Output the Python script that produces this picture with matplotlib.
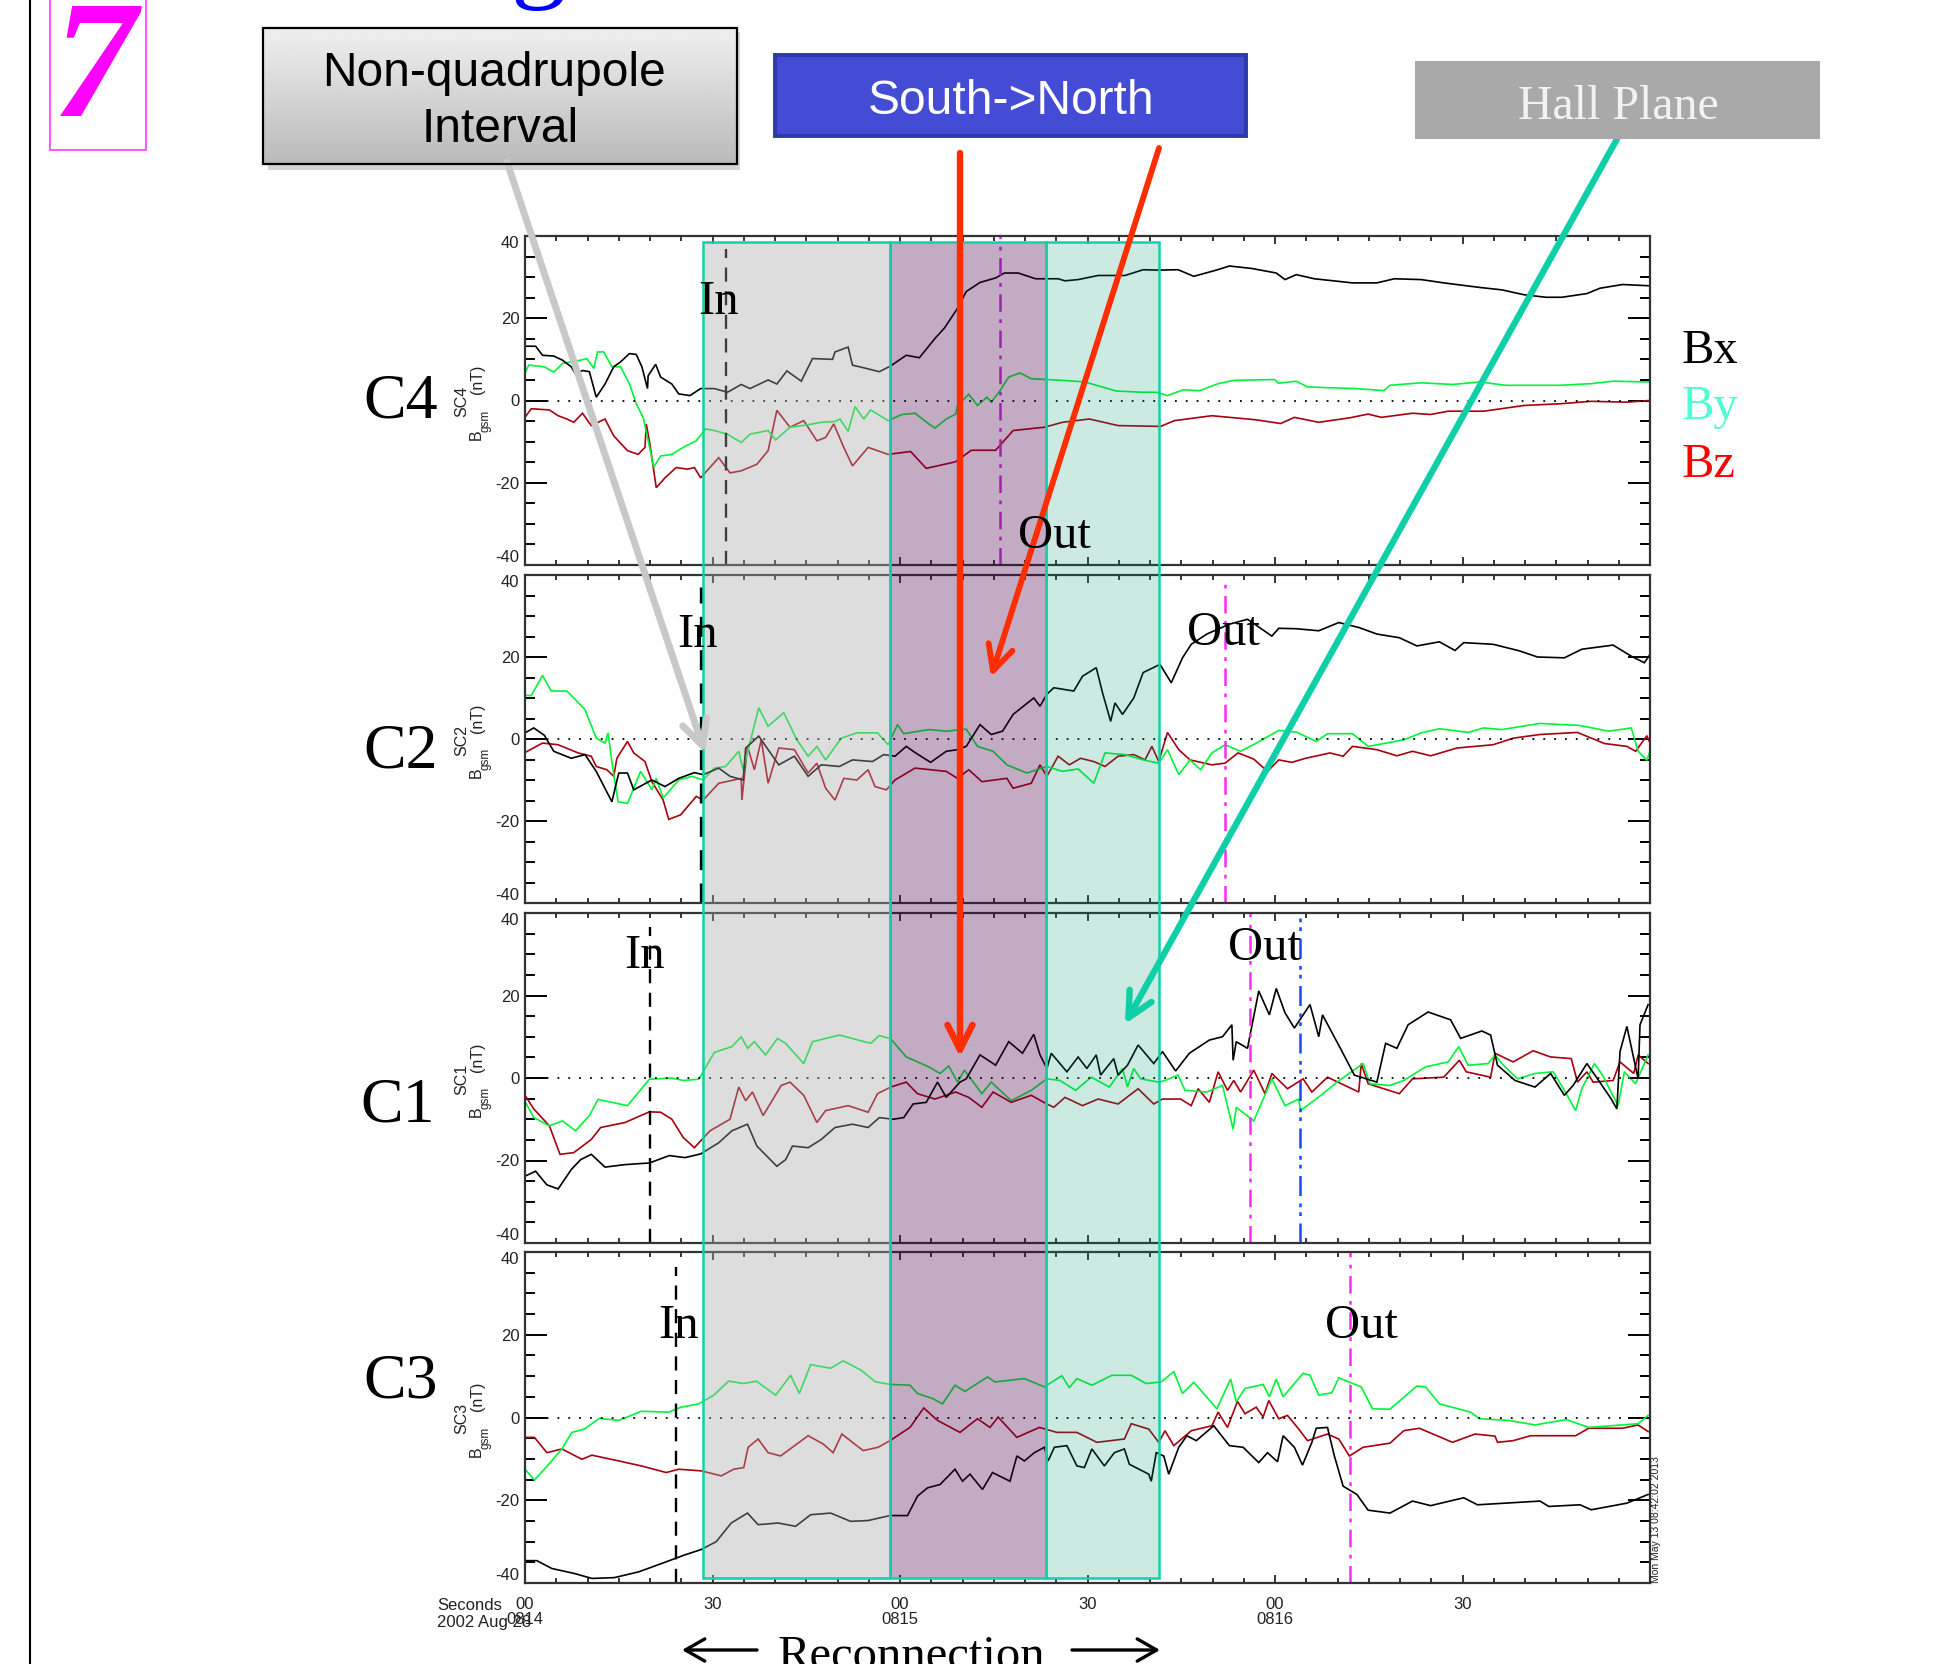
import matplotlib
matplotlib.use('Agg')
import matplotlib.pyplot as plt
from matplotlib.patches import Rectangle
import numpy as np

W, H = 1948, 1664
SERIF = ['Liberation Serif', 'DejaVu Serif']
SANS = ['Liberation Sans', 'DejaVu Sans']

# all times are seconds after 08:14:00, all fields in nT
c4_bx_t = [0,1.7,2.8,4.6,6,7.4,8.1,9.2,10.3,11.4,12.8,14.2,15.3,16.7,17.8,18.7,19.6,19.7,20.9,21.7,23.5,24.6,26.4,28.1,30.3,32.4,34.6,36,38.9,40.3,41.9,44.2,46,49.2,49.6,51.7,52.4,54.6,56.7,58.5,61,63.1,65.6,67.1,69.2,70.6,72.8,75.3,76.7,78.9,81.7,85.3,86.4,88.5,91.7,96,98.9,101.3,104.5,107,110.6,112.7,116.3,120.2,121.6,123.4,126.3,132.4,136.3,139.1,143.4,147,152.7,156.3,159.9,163.4,165.9,169.9,172,175.6,179.9]
c4_bx = [13.2,13.2,11,10.8,9.8,8.2,6.4,7.3,7,0.8,4,8.2,9.4,11.4,11.2,8.2,2.9,6,8.8,5.7,4,1.6,1.2,2.9,2.9,2,3.9,2.9,5,4,7.2,4.7,10.2,10,11.8,13,8.6,7.8,7,8.4,11,10.4,15.1,17.6,22.4,26.5,28.7,29.8,31,31,29.6,29.6,29.1,29.4,30.4,30.4,31.8,31.7,31.8,30.2,31.7,32.7,32.1,31,29.4,30.6,29.6,28.6,28.6,29.6,29.4,28.6,27.5,26.9,25.7,25.1,25.1,26,27.3,28.2,27.9]
c4_by_t = [0,.6,3.1,4.6,6,7.4,8.9,9.9,11,11.6,12.6,13.9,15.3,16.7,17.8,18.9,19.6,20.6,21.7,23.5,25.3,27.4,28.9,30.3,32.4,34.6,36,38.9,40.1,42.4,45.3,47.4,49.6,50.4,51.7,52.8,54.2,55.3,58.1,60.3,62.4,64.6,65.6,67.4,68.9,69.2,71,72.4,73.9,74.6,76,77.4,79.2,81,86,89.6,94.6,98.9,101,102.8,105.3,108,110.9,113.4,119.9,120.6,123.4,125.2,130.6,133.1,137.4,138.4,143.4,148.4,152.7,157,165.6,170.6,174.1,179.9]
c4_by = [6.7,8.6,8.2,6.9,9,9.4,9.8,10.2,7.8,11.8,11.8,8.2,8.2,4.1,-.8,-4.1,-9,-16.2,-13.5,-13.1,-11.4,-9.8,-6.9,-7.3,-8.2,-10.2,-8.2,-7.3,-9.6,-6.5,-5.9,-5.3,-5.1,-4.5,-7.5,-1.5,-4.5,-2.3,-4.9,-3.4,-3.1,-5.7,-6.7,-4.5,-3.3,-1.2,1.5,-1.2,.8,-.4,2.4,5.7,6.7,5.3,4.9,4.5,2.3,2,2,1.2,2.6,2.4,4.1,4.9,5.1,4.2,4.7,3.3,3,2.9,2.4,3.7,4.3,3.9,4.5,3.7,3.7,4.1,4.7,4.5]
c4_bz_t = [0,1,3.9,5.3,6.7,7.8,9.2,10.6,12.8,14.2,16.4,18.1,19.2,19.4,19.9,21,22.4,24.2,26,27.1,28.1,31,32.8,34.6,37.1,38.9,40.3,42.4,44.6,46.7,48.1,49.4,51,52.4,54.9,58.1,61.7,64.2,68.9,71.4,75.3,78.1,83.1,86,90.3,94.9,101.7,103.9,109.9,117,120.9,123.1,127,132,134.9,137,142,144.9,147.7,153.4,159.9,165.6,170.6,176.3,179.9]
c4_bz = [-4.1,-2,-2.3,-3.7,-4.5,-5.3,-3.1,-6.1,-4.5,-8.6,-12.2,-13.1,-11.4,-5.7,-9.8,-21.2,-18.8,-16.3,-16.7,-16.3,-18.8,-13.9,-17.6,-17.1,-15.5,-12.2,-2.4,-6.5,-4.9,-9.8,-9,-5.7,-11.4,-15.9,-11.4,-13.1,-12.4,-16.5,-14.9,-12.1,-12.1,-7.3,-6.5,-5.3,-4.5,-6.1,-6.3,-4.9,-3.7,-4.7,-5.6,-4.1,-5.3,-4.2,-3.3,-4.1,-3.1,-3.4,-2.6,-2.6,-1.2,-.8,-.2,-.4,0]

c2_bx_t = [0,1.4,3.1,4.6,7.4,9.6,11.4,13.9,15,16.4,17.4,20.3,22.4,24.6,27.1,28.5,31,32.8,34.9,35.3,37.4,38.9,40.6,43.1,45.3,47.4,50.3,52.4,55.6,57.4,59.2,61,62.4,64.9,67.4,69.2,70.6,72.8,74.6,76.4,78.1,81.4,82.4,83.5,84.6,87.8,89.2,91.4,92.4,93.7,94.4,95.6,97.4,98.9,101.6,103.4,105.2,106.6,109.1,112.7,115.6,119.5,120.6,123.4,127,130.2,133.4,136.3,139.9,142.7,146.3,148.8,150.2,154.9,159.1,162,166.3,169.1,174.1,177,179.1,179.9]
c2_bx = [1.5,2.7,.9,-3,-4.7,-3.8,-7.9,-15.3,-8.3,-8.3,-12.4,-10,-11.6,-9.6,-8.2,-8.7,-7.1,-9.1,-10,-2.2,.7,-2.6,-6.3,-4.2,-9.1,-6.3,-6.7,-5.1,-5.5,-3.8,-4.2,-1.8,-3.3,-5.7,-3,-2.6,-1.8,3.5,1.1,1.9,6,10,8,10.9,12.5,11.7,15.3,17.4,11.3,4.3,8.8,6,10,16.2,18.2,13.7,19.8,23.1,25.6,28,29.2,25.1,27,26.9,26.4,28.4,27.2,25.6,24.7,22.7,23.7,21.6,23.5,23.1,21.5,20,19.8,21.9,22.9,20.2,18.6,20.4]
c2_by_t = [0,1,2.8,4.2,6.7,9.6,11.4,12.8,13.3,14,14.9,16.4,18.5,20.3,21,22.1,24.6,26.7,28.5,30.3,32.1,34.2,34.9,37.4,38.9,41.4,43.5,45.3,46.7,48.1,50.6,53.1,56.4,58.1,59.6,60.6,64.6,67.4,70.6,72.4,74.9,77.1,80.3,83.5,86,88.5,91,92.8,96,98.9,101.4,102.8,104.6,106.4,108.1,109.9,112,114.5,117,120.6,123.4,126.6,128.4,132.4,134.9,140.6,143.4,146.3,150.9,153.4,156.3,162.4,168.8,173.4,177,178.1,179.5,179.9]
c2_by = [10.6,10.6,15.5,11.7,11.7,7.2,.2,-1,1.5,-6.7,-15.3,-15.7,-7.9,-12.4,-9.6,-14.4,-10,-9.1,-10,-7.1,-6.7,-3,-7.5,7.6,3.1,6.4,-.2,-4.2,-1.8,-5.1,.2,1.5,1.5,-1.4,3.5,1.3,2.3,1.9,2.4,-1.8,-3,-6.3,-8.3,-6.7,-7.9,-7.3,-10.8,-3.4,-3.8,-5.1,-5.9,-2.6,-8.7,-5.1,-7.5,-3.4,-1.4,-3,-1,2.1,1.7,-.6,1.3,1.3,-1.8,-.2,1.5,2.5,1.6,2.7,2.3,3.8,3.3,1.9,2.7,-3,-5.2,-3.4]
c2_bz_t = [0,2.8,5.3,8.5,10.6,11.4,13.1,14.2,14.7,16.4,17.4,19.2,20.3,22.1,23,24.9,27.4,28.5,31,34.6,34.7,35.6,36.7,37.8,38.9,40.6,43.1,45.3,46.7,48.1,49.6,51,53.1,54.9,56,57.8,59.2,62.4,67.4,69.2,71,73.1,77.1,78.1,81,82.4,83.5,85.3,87.1,88.9,91,92.8,94.9,97.4,99.2,100.3,101.4,102.8,104.6,106.4,109.9,112,114.1,116.6,118.8,120.6,122.7,124.9,128.8,130.9,132.4,136.3,139.5,142,144.9,149.1,154.9,158.1,162.4,168.4,172.7,176.3,177.7,179.5,179.9]
c2_bz = [-3.3,-1,-1.4,-3.4,-4.2,-6.7,-7.5,-9.1,-4.7,-.6,-3.4,-5.5,-10.4,-14.9,-19.6,-18.5,-14,-14.9,-10.8,-9.6,-14.9,-1.8,-7.5,-.2,-10.8,-2.2,-2.6,-8.3,-5.9,-12,-14.9,-9.6,-10,-7.5,-11.6,-12.4,-10,-7.1,-7.9,-9.6,-7.5,-10.4,-9.6,-12,-10.8,-6.3,-9.1,-4.2,-6.3,-4.7,-5.5,-6.7,-4.2,-3.8,-5.1,-1.8,-5.5,1.6,-2.6,-5.1,-6.3,-5.9,-3.4,-4.9,-7.9,-5.1,-5.7,-4.7,-3.4,-4.2,-1.8,-2.6,-4.1,-3,-4.1,-2.2,-1.4,.2,1.1,1.6,-1.1,-1.8,-3,.8,-.6]

c1_bx_t = [0,1.7,3.5,5.3,7.4,8.9,10.6,12.8,16,19.9,23.1,25.6,28.1,31,33.1,35.6,37.1,40.3,41.7,42.8,45.3,47.4,49.6,52.4,54.9,56.7,58.9,60.6,62.1,64.2,66,67.4,69.6,70.6,72.8,75.3,77.4,79.6,81.4,82.4,83.5,84.2,86.7,88.5,89.9,91.4,92.1,94.2,94.9,96.4,98.1,100.6,102,104.1,106.3,109.5,111.6,113.1,113.3,113.8,115.6,117.4,119.1,120.2,121.6,123.1,125.6,127,127.6,130.6,132.7,136.3,137.7,139.5,141.3,144.5,148.1,149.7,153.1,154.5,155.6,158.4,161.6,164.1,166.3,167.7,169.9,171.6,173.8,174.7,175.2,176.3,178.1,178.4,179.7]
c1_bx = [-23.8,-22.6,-25.9,-26.9,-22.2,-19.8,-18.5,-21.6,-21,-20.6,-18.8,-19.3,-18.4,-15.7,-12.8,-11.2,-16.5,-21.4,-19.8,-16.5,-16.9,-14.9,-12,-11.2,-12,-9.6,-10,-9.6,-6.3,-5.9,-1,-4.7,-1,-.2,5.6,3.1,8.8,6,10.6,5.6,2.3,6,1.5,5.1,2.3,5.6,.7,4.7,.7,3.1,8,3.5,6.4,1.7,6,9.2,10,12.9,4.3,8.8,7.2,21.1,15.3,21.7,15.8,12.1,17.8,10,15.3,6.8,.7,-1,8.4,7.2,12.9,16,14.1,9.6,11.4,10.4,3.1,-.6,-2.2,1.1,-4.2,-1.8,3.5,-.2,-5.1,-7.5,6.4,12.5,-.2,12.9,17.8]
c1_by_t = [0,1.4,3.9,6,8.1,10.3,11.7,16.4,19.9,23.5,25.3,27.8,30.3,33.1,34.6,35.6,36.7,38.5,40.4,41.7,44.6,46,50.3,55.3,56.7,58.5,61,64.6,66.4,67.8,69.2,70.3,73.1,74.6,77.8,81,83.5,85.6,88.1,90.6,93.5,95.6,96.4,97.4,98.5,101.4,102.4,104.5,105.6,109.1,111.6,113.3,113.8,116.6,119.5,121.6,123.8,124.1,127.7,129.9,134.1,135.2,138.4,140.6,144.1,147.7,149.4,150.9,154.1,155.2,156.3,158.8,161.6,164.5,166.3,168.1,169.1,171.1,172.4,174.9,175.9,177.7,179.7]
c1_by = [-5.7,-9.6,-11.6,-10.4,-12.8,-9.1,-5.2,-6.7,-.3,0,-.6,-.3,6.2,7.6,10,7.2,8.8,5.6,9.6,8.4,3.5,8.8,10.4,8.4,10.3,9.5,5.1,2.7,1.1,2.9,-1,1.9,-3.8,-1,-5.5,-3,-.2,-.6,-3,.2,-2.2,2.3,-2.2,2.3,-.2,-1,-.6,.7,-3,-3.4,-1.8,-12.4,-7.1,-10.4,-.2,-6.7,-5.1,-7.9,-3.8,-1,3.5,-1.4,-1.8,-.6,2.7,3.9,7.6,3.1,3.5,5.6,3.5,-.2,1.1,1.5,-3,-7.9,-2.6,3.5,.7,-6.7,1.5,-1.4,5.6]
c1_bz_t = [0,1.4,3.9,5.6,7.8,10.6,12.1,16,19.9,21.7,23.5,25.3,27.1,29.6,32.8,34.2,35.3,36.4,38.1,41,42.4,44.6,46.7,48.1,51.7,54.9,56.4,58.5,61,62.8,65.6,68.9,71,73.1,74.9,77.8,81,83.5,84.6,86.4,89.2,91.7,94.9,98.1,100.6,102,104.9,106.6,107.7,109.5,110.9,112.4,113.4,114.5,116.6,118.4,119.5,122,124.5,125.9,128.4,133.4,133.8,134.9,139.9,142,147,149.5,150.6,154.5,155.2,158.1,161.3,164.1,167.4,168.4,169.9,170.9,174.1,175.2,177.4,178.1,179.7]
c1_bz = [-4.2,-7.5,-11.6,-18.5,-18.1,-14.9,-12,-10.8,-8.2,-8.3,-10,-14.4,-16.9,-12.8,-10,-2.2,-5.5,-3.4,-9.1,-1.8,-1,-4.2,-10.8,-7.9,-6.7,-8.3,-3.8,-2.2,-1,-3.8,-5.1,-3.4,-4.7,-7.1,-3.4,-5.9,-4.2,-6.3,-7.1,-4.7,-6.7,-5.1,-6.3,-2.6,-6.3,-5.1,-5.1,-6.7,-2.6,-5.9,1.5,-3,-.6,-3.4,1.9,-3.8,1.1,-2.6,-.2,-3.4,.2,-3.4,3.5,-1.4,-3.8,-.2,.2,4.3,1.5,.2,6,3.9,6.6,5.1,4.7,-1,1.5,-1,-.6,3.9,1.1,5.6,3.5]

c3_bx_t = [0,1.9,4.3,7.9,10.7,14.3,18.2,22.2,25.4,28.2,30.6,33,35.6,37.3,40.5,43.3,45.7,48.9,52.1,54.9,58.4,61.2,62.8,64.4,66.4,68.8,70,71.2,73.2,74.8,77.6,78.7,79.9,81.5,83.1,83.7,84.7,86.7,88.3,89.5,90.7,92.7,94.3,95.9,96.7,99.8,100.2,101,102.2,103,104.6,105.9,107.4,110.2,112.7,114.9,117.4,118.8,120.4,121.3,123.1,124.4,125.9,126.6,128.4,129.5,130.9,133.1,134.9,138.4,142,144.9,150.2,152.4,162.4,163.8,168.8,170.6,176.3,179.7]
c3_bx = [-34.6,-34.6,-36.5,-37.7,-38.9,-38.7,-37.3,-35.1,-33.3,-31.9,-30,-25.5,-23.1,-25.9,-25.5,-26.3,-23.5,-23.1,-25.1,-24.9,-23.7,-23.7,-19,-17,-16.2,-12.5,-15.4,-13.7,-17.4,-13.3,-15.4,-9.3,-10.5,-8.5,-7.2,-10.5,-7.2,-6.8,-11.7,-12.1,-7.6,-11.7,-8.5,-7.6,-11.3,-13.7,-15.4,-8.5,-9.3,-13.7,-7.2,-4.4,-5.6,-2,-6.8,-7.2,-10.9,-8.5,-10.7,-4.4,-7.2,-11.5,-6,-2.6,-2.4,-9.3,-16.6,-18.6,-22.4,-23.1,-20.2,-21.3,-19.4,-21.1,-20.2,-21.5,-21.1,-22.3,-20.7,-18.6]
c3_by_t = [0,1.5,3.1,5.9,7.5,9.5,11.9,15,18.6,23,25,27.8,30.2,32.6,35,37,40.1,42.5,43.9,45.7,48.9,50.9,53.7,56.1,58.4,61.6,62.8,65.2,66.8,68.8,70.4,74,75.2,79.9,83.1,85.9,87.1,88.3,90.7,93.9,97,99.4,101.8,103.8,105.2,107,108.8,110.7,112.9,113.8,115.2,118.1,119.1,120.2,121.3,124.5,125.6,127,129.1,130.2,133.8,135.6,138.4,142.7,144.1,146.3,151.3,152.7,157.4,161.6,166.6,170.2,178.1,179.7]
c3_by = [-12.5,-15.1,-12.5,-7.6,-3.6,-2.8,-.2,-.7,1.5,1.3,2.5,3.3,5.4,8.8,8.2,8.8,5.4,10.2,5.8,12.8,11.9,13.7,11.5,8.6,8,7.8,5.8,4.6,3.3,7.8,6.3,9.8,8.6,9.4,7.4,10.1,7.2,9.4,7.8,10.2,10.2,8.2,8.6,11.1,5.8,8.5,5.4,2.1,9.3,3.8,7,8,5,9.3,5,10.7,10.2,5.4,6,9.6,7.4,2.1,2,7.6,7.4,3.3,1.3,-.3,-.7,-1.8,-.5,-2.4,-1.5,.5]
c3_bz_t = [0,1.5,3.5,5.9,9.1,10.7,15,18.6,22.6,24.6,28.2,31.4,33.4,35,35.7,37.3,38.9,40.9,45.3,47.7,49.3,50.7,54.1,56.5,58.4,61.6,63.8,66,69.6,72.4,74.4,75.7,78.7,82.3,85.1,88.3,91.5,95.9,97,99.8,101.4,102.4,103.8,106.6,109.9,110.9,112.4,114,115.2,117,118.1,119,120.6,122,123.8,125.2,128.4,130.2,131.9,134.1,138.4,140.6,143.1,148.4,152,155.2,155.6,158.1,160.9,168.1,170.2,175.6,178.1,179.7]
c3_bz = [-4.8,-4.8,-8.5,-7.6,-10.1,-9.1,-10.5,-11.7,-13.3,-12.5,-12.9,-14.1,-12.5,-12.1,-7.2,-5.2,-8.5,-9.3,-4.4,-6.4,-8.5,-4,-8,-7.2,-5.6,-2.4,2.3,-.7,-3.6,-.3,-2.4,.1,-4.8,-2.4,-3.6,-3.6,-6,-5.2,-1.5,-2.8,-6,-3.2,-6.8,-3.2,-2,1.3,-2.4,3.9,.9,2.5,.1,4.1,-.3,.5,-2.8,-5.6,-4,-5.2,-9.3,-7.2,-6.2,-3.2,-2.6,-6,-4,-4.5,-6,-5.6,-4.4,-4.4,-2.6,-2.6,-1.8,-3.4]

panel_names = ['C4', 'C2', 'C1', 'C3']
panel_sc = ['SC4', 'SC2', 'SC1', 'SC3']
panel_data = [
    (c4_bx_t, c4_bx, c4_by_t, c4_by, c4_bz_t, c4_bz),
    (c2_bx_t, c2_bx, c2_by_t, c2_by, c2_bz_t, c2_bz),
    (c1_bx_t, c1_bx, c1_by_t, c1_by, c1_bz_t, c1_bz),
    (c3_bx_t, c3_bx, c3_by_t, c3_by, c3_bz_t, c3_bz),
]
in_times = [32.1, 28.2, 20, 24.1]
out_times = [76, 112, 116, 132]
blue_time_c1 = 124
band_edges = [28.5, 58.4, 83.4, 101.4]
xtick_labels = ['00\n0814', '30', '00\n0815', '30', '00\n0816', '30', '']

# pixel layout of the panels
left, right = 525, 1650
tops = [236, 575, 913, 1252]
bottoms = [565, 903, 1243, 1583]
label_pos = [(401, 402), (401, 753), (398, 1106), (401, 1382)]
in_pos = [(719, 302), (698, 635), (645, 956), (679, 1326)]
out_pos = [(1054, 536), (1223, 633), (1264, 948), (1361, 1326)]
in_top = [249, 587, 927, 1267]
out_top = [236, 580, 913, 1252]

fig = plt.figure(figsize=(W / 100, H / 100), dpi=100, facecolor='white')


def px_t(t):
    return left + t * (right - left) / 180.0


for i in range(4):
    ax = fig.add_axes([left / W, 1 - bottoms[i] / H, (right - left) / W, (bottoms[i] - tops[i]) / H])
    tbx, bx, tby, by, tbz, bz = panel_data[i]
    ax.plot(tbz, bz, color='#a8000f', lw=1.2, solid_joinstyle='miter')
    ax.plot(tby, by, color='#00f53a', lw=1.2, solid_joinstyle='miter')
    ax.plot(tbx, bx, color='#000000', lw=1.2, solid_joinstyle='miter')
    ax.axhline(0, color='black', lw=1.3, ls=(0, (1, 5)))

    h = bottoms[i] - tops[i]
    lw_in = 2.4 if i == 1 else 1.7
    ax.axvline(in_times[i], ymin=0, ymax=1 - (in_top[i] - tops[i]) / h, color='black', lw=lw_in, ls=(0, (6, 4)))
    out_col = '#c935d8' if i == 0 else '#ff2bf2'
    ax.axvline(out_times[i], ymin=0, ymax=1 - (out_top[i] - tops[i]) / h, color=out_col, lw=1.8, ls=(0, (7, 3, 1.5, 3)))
    if i == 2:
        ax.axvline(blue_time_c1, color='#1348ff', lw=1.8, ls=(0, (8, 3, 1.5, 2, 1.5, 3)))

    ax.set_xlim(0, 180)
    ax.set_ylim(-40, 40)
    ax.set_xticks(np.arange(0, 181, 30))
    ax.set_xticks(np.arange(0, 181, 5), minor=True)
    ax.set_yticks([-40, -20, 0, 20, 40])
    ax.set_yticks(np.arange(-40, 41, 5), minor=True)
    ax.tick_params(axis='x', which='major', direction='in', top=True, bottom=True, length=6, width=1.1, pad=10)
    ax.tick_params(axis='x', which='minor', direction='in', top=True, bottom=True, length=3.5, width=1.1)
    ax.tick_params(axis='y', which='major', direction='in', left=True, right=True, length=16, width=1.4, pad=4)
    ax.tick_params(axis='y', which='minor', direction='in', left=True, right=True, length=7.5, width=1.4)
    ax.set_yticklabels(['-40', '-20', '0', '20', '40'], fontsize=12, family=SANS, color='#222222')
    ticks = ax.get_yticklabels()
    ticks[0].set_verticalalignment('bottom')
    ticks[4].set_verticalalignment('top')
    if i == 3:
        ax.set_xticklabels(xtick_labels, fontsize=12, family=SANS, color='#222222', linespacing=1.0)
    else:
        ax.set_xticklabels([])
    for s in ax.spines.values():
        s.set_linewidth(1.6)
        s.set_color('#333333')

# overlay in picture pixels for bands, arrows, boxes and words
ov = fig.add_axes([0, 0, 1, 1], zorder=5)
ov.set_xlim(0, W)
ov.set_ylim(H, 0)
ov.patch.set_alpha(0)
ov.axis('off')

band_top, band_bottom = 242, 1578
band_cols = [('#a8a8a8', 0.38), ('#4c004c', 0.33), ('#009170', 0.20)]
for k in range(3):
    x0, x1 = px_t(band_edges[k]), px_t(band_edges[k + 1])
    ov.add_patch(Rectangle((x0, band_top), x1 - x0, band_bottom - band_top, facecolor=band_cols[k][0],
                           alpha=band_cols[k][1], edgecolor='none'))
    ov.add_patch(Rectangle((x0, band_top), x1 - x0, band_bottom - band_top, fill=False, edgecolor='#12cfa9', lw=1.8))


def arrow(start, tip, col, lw, hl=0.9, hw=0.45, ms=20):
    ov.annotate('', xy=tip, xytext=start,
                arrowprops=dict(arrowstyle='->,head_length=%s,head_width=%s' % (hl, hw), color=col, lw=lw,
                                shrinkA=0, shrinkB=0, mutation_scale=ms))


arrow((507, 162), (705, 753), '#c8c8c8', 5)
arrow((960, 153), (960, 1057), '#ff2d00', 4.6)
arrow((1159, 148), (991, 677), '#ff2d00', 4.2)
arrow((1617, 139), (1125, 1024), '#0fcfa8', 4.6)

# left rule, magenta box with the big 7, clipped title letter
ov.plot([30, 30], [0, H], color='black', lw=1.5)
ov.add_patch(Rectangle((49.5, -10), 96.5, 160, fill=False, edgecolor='#ff55ff', lw=1.4))
ov.text(95, 116, '7', family=SERIF, style='italic', weight='bold', fontsize=120, color='#ff00ff', ha='center', va='baseline')
ov.text(538, -12, 'g', family=SERIF, fontsize=80, color='#0000ff', ha='center', va='baseline')

# label boxes
ov.add_patch(Rectangle((268, 32), 472, 138, facecolor='#888888', alpha=0.35, edgecolor='none'))
grad = np.linspace(0.94, 0.73, 64).reshape(-1, 1)
ov.imshow(grad, cmap='gray', vmin=0, vmax=1, extent=(263, 737, 164, 28), aspect='auto', zorder=2)
ov.set_xlim(0, W)
ov.set_ylim(H, 0)
ov.add_patch(Rectangle((263, 28), 474, 136, fill=False, edgecolor='black', lw=1.6, zorder=3))
ov.text(494, 73, 'Non-quadrupole', family=SANS, fontsize=34.5, color='black', ha='center', va='center', zorder=4)
ov.text(500, 129, 'Interval', family=SANS, fontsize=34.5, color='black', ha='center', va='center', zorder=4)

ov.add_patch(Rectangle((775, 55), 471, 81, facecolor='#444cd6', edgecolor='#2b3aa8', lw=2.8, zorder=3))
ov.text(1011, 102, 'South->North', family=SANS, fontsize=34.5, color='white', ha='center', va='center', zorder=4)

ov.add_patch(Rectangle((1415, 61), 405, 78, facecolor='#a9a9a9', edgecolor='none', zorder=3))
ov.text(1618, 107, 'Hall Plane', family=SERIF, fontsize=34.5, color='#f2f2f2', ha='center', va='center', zorder=4)

# words on the panels
for i in range(4):
    ov.text(label_pos[i][0], label_pos[i][1], panel_names[i], family=SERIF, fontsize=46, ha='center', va='center', color='black')
    ov.text(in_pos[i][0], in_pos[i][1], 'In', family=SERIF, fontsize=35, ha='center', va='center', color='black', zorder=6)
    ov.text(out_pos[i][0], out_pos[i][1], 'Out', family=SERIF, fontsize=35, ha='center', va='center', color='black', zorder=6)
    zero_y = (tops[i] + bottoms[i]) / 2.0
    ov.text(462, zero_y + 1, panel_sc[i], family=SANS, fontsize=11.5, rotation=90, ha='center', va='center', color='#222222')
    ov.text(477, zero_y - 21, '(nT)', family=SANS, fontsize=11.5, rotation=90, ha='center', va='center', color='#222222')
    ov.text(476, zero_y + 34, 'B', family=SANS, fontsize=11.5, rotation=90, ha='center', va='center', color='#222222')
    ov.text(485, zero_y + 20, 'gsm', family=SANS, fontsize=8.5, rotation=90, ha='center', va='center', color='#222222')

# legend words
ov.text(1682, 351, 'Bx', family=SERIF, fontsize=35, color='black', ha='left', va='center')
ov.text(1682, 407, 'By', family=SERIF, fontsize=35, color='#4dffd2', ha='left', va='center')
ov.text(1682, 465, 'Bz', family=SERIF, fontsize=35, color='#ff0000', ha='left', va='center')

# axis footer
ov.text(437, 1605, 'Seconds', family=SANS, fontsize=12, color='#222222', ha='left', va='center')
ov.text(437, 1623, '2002 Aug 28', family=SANS, fontsize=12, color='#222222', ha='left', va='center')
ov.text(1656, 1520, 'Mon May 13 08:42:02 2013', family=SANS, fontsize=7.5, color='#222222', rotation=90, ha='center', va='center')

ov.text(911, 1669, 'Reconnection', family=SERIF, fontsize=35, color='black', ha='center', va='baseline')
arrow((757, 1650), (682, 1650), 'black', 2.4, hl=0.7, hw=0.4, ms=20)
arrow((1072, 1650), (1160, 1650), 'black', 2.4, hl=0.7, hw=0.4, ms=20)

fig.savefig('out.png', dpi=100, facecolor='white')
